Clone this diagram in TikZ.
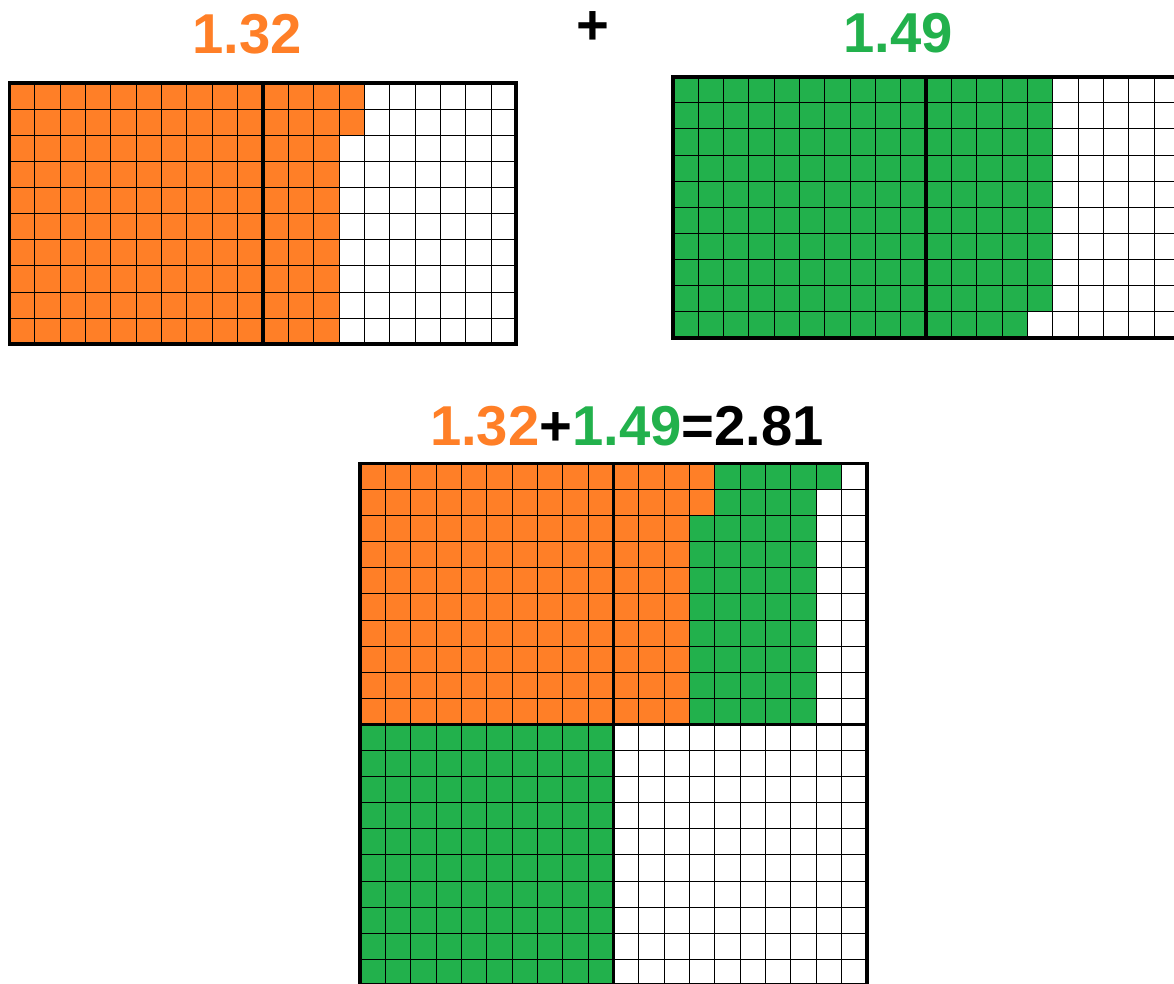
\documentclass[tikz,border=0pt]{standalone}
\usepackage{fontspec}
\setmainfont{Liberation Sans}
\usetikzlibrary{positioning}
\definecolor{paintOrange}{HTML}{FF7F27}
\definecolor{paintGreen}{HTML}{22B14C}

\begin{document}
\begin{tikzpicture}[
    x=0.02cm, y=-0.02cm,
    thingrid/.style={draw=black, line width=0.55pt},
    thickrule/.style={draw=black, line width=2.2pt},
    orangefill/.style={fill=paintOrange},
    greenfill/.style={fill=paintGreen},
    numtext/.style={font=\fontsize{32}{38}\selectfont\bfseries, inner sep=0pt, anchor=base},
    cellunit/.style={x=0.507cm, y=-0.522cm}
  ]
    \useasboundingbox (0,0) rectangle (1174,984);
    \clip (0,0) rectangle (1174,984);

    % Labels
    \node[numtext, text=paintOrange] (first) at (247,53) {1.32};
    \node[numtext] (plus) at (592.5,44) {+};
    \node[numtext, text=paintGreen] (second) at (898,52) {1.49};
    \node[numtext] (sum) at (627,445) {\textcolor{paintOrange}{1.32}+\textcolor{paintGreen}{1.49}=2.81};

    % Filled cells
    \begin{scope}[shift={(9.5,83.3)}, cellunit]
      \fill[orangefill] (0,0) rectangle (13,10) (13,0) rectangle (14,2);
    \end{scope}
    \begin{scope}[shift={(672.7,76.7)}, cellunit]
      \fill[greenfill] (0,0) rectangle (14,10) (14,0) rectangle (15,9);
    \end{scope}
    \begin{scope}[shift={(360,463.5)}, cellunit]
      \fill[orangefill] (0,0) rectangle (13,10) (13,0) rectangle (14,2);
      \fill[greenfill] (14,0) rectangle (19,1) (14,1) rectangle (18,2)
        (13,2) rectangle (18,10) (0,10) rectangle (10,20);
    \end{scope}

    % Grid lines and frames
    \foreach \gx/\gy/\rows in {9.5/83.3/10, 672.7/76.7/10, 360/463.5/20} {
      \begin{scope}[shift={(\gx,\gy)}, cellunit]
        \foreach \c in {1,...,19} \draw[thingrid] (\c,0) -- (\c,\rows);
        \foreach \r in {1,...,\rows} \draw[thingrid] (0,\r) -- (20,\r);
        \draw[thickrule] (0,0) rectangle (20,\rows) (10,0) -- (10,\rows) (0,10) -- (20,10);
      \end{scope}
    }
\end{tikzpicture}
\end{document}
